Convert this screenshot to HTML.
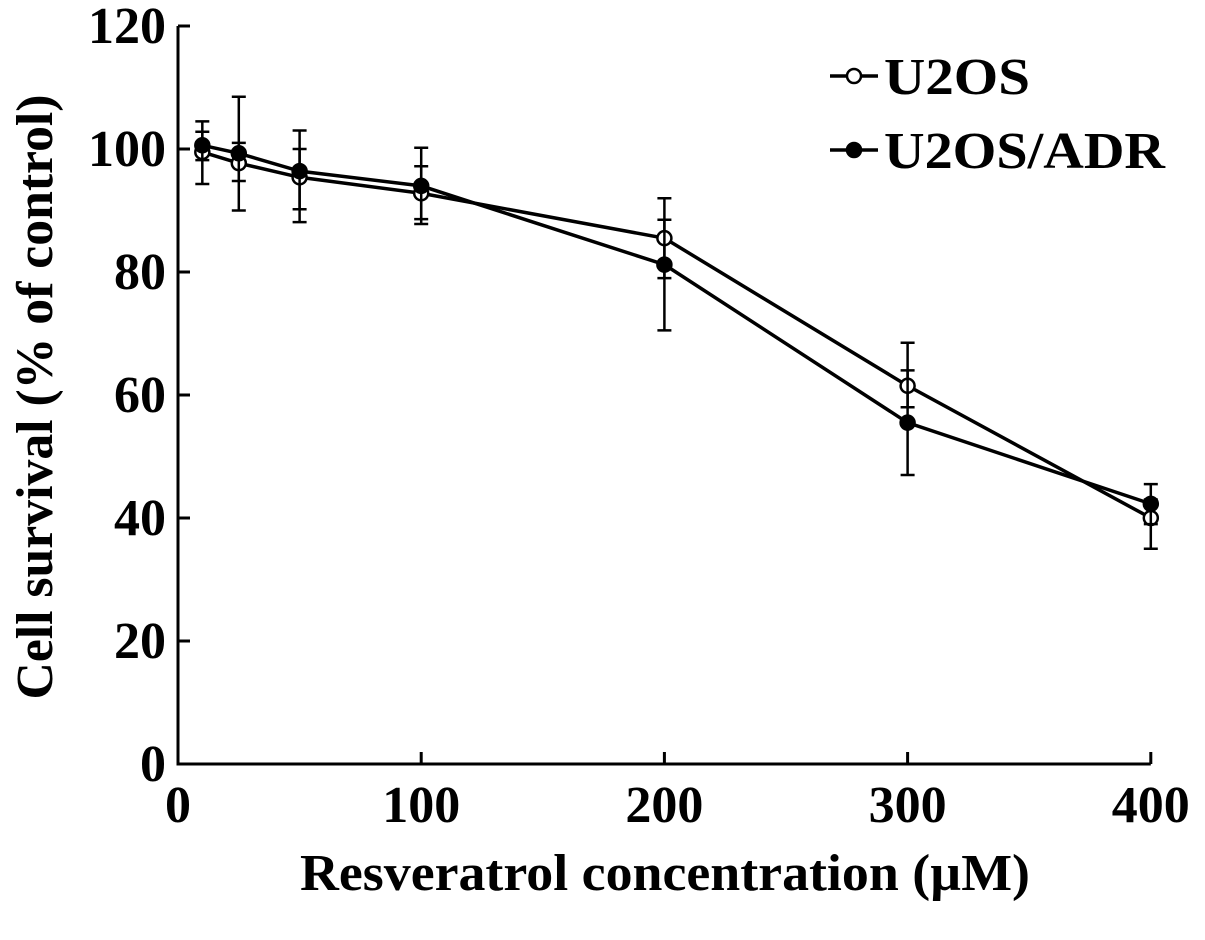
<!DOCTYPE html>
<html><head><meta charset="utf-8"><style>
html,body{margin:0;padding:0;background:#fff;}
svg{display:block;font-family:"Liberation Serif",serif;font-weight:bold;}
</style></head><body>
<svg id="chart" width="1205" height="940" viewBox="0 0 1205 940"></svg>
<script>
const concentrations=[10,25,50,100,200,300,400];
const u2osMean=[99.5,97.7,95.4,92.8,85.5,61.5,40.0];
const u2osLow=[94.3,90.0,88.1,88.6,79.0,58.0,35.0];
const u2osHigh=[102.8,101.0,100.0,97.2,92.0,68.5,43.0];
const adrMean=[100.6,99.3,96.4,94.0,81.2,55.5,42.3];
const adrLow=[98.2,94.8,90.2,87.8,70.5,47.0,39.0];
const adrHigh=[104.5,108.5,103.0,100.2,88.5,64.0,45.5];
const xTicks=[0,100,200,300,400];
const yTicks=[0,20,40,60,80,100,120];
const NS="http://www.w3.org/2000/svg";
const svg=document.getElementById('chart');
const X=v=>178+v*2.432;
const Y=v=>764-v*6.15;
function mk(t,a,p){const e=document.createElementNS(NS,t);for(const k in a)e.setAttribute(k,a[k]);(p||svg).appendChild(e);return e;}
let ax=mk('path',{d:`M${X(0)} ${Y(120)}V${Y(0)}H${X(400)}`,fill:'none',stroke:'#000','stroke-width':3});


yTicks.forEach(v=>{
 const t=mk('line',{x1:X(0),x2:X(0)+12,y1:Y(v),y2:Y(v),stroke:'#000','stroke-width':3});
 
 
 const l=mk('text',{x:X(0)-12,y:Y(v)+17,'text-anchor':'end','font-size':52});
 l.textContent=v;
 
 
});
xTicks.forEach(v=>{
 const t=mk('line',{x1:X(v),x2:X(v),y1:Y(0),y2:Y(0)-12,stroke:'#000','stroke-width':3});
 
 
 const l=mk('text',{x:X(v),y:822,'text-anchor':'middle','font-size':52});
 l.textContent=v;
 
 
});
function series(mean,lo,hi,fill,name){
 const g=mk('g',{});
 
 
 concentrations.forEach((c,i)=>{
  const x=X(c);
  mk('path',{d:`M${x} ${Y(lo[i])}V${Y(hi[i])}M${x-7} ${Y(lo[i])}H${x+7}M${x-7} ${Y(hi[i])}H${x+7}`,stroke:'#000','stroke-width':2.5,fill:'none'},g);
 });
 mk('polyline',{points:concentrations.map((c,i)=>X(c)+','+Y(mean[i])).join(' '),fill:'none',stroke:'#000','stroke-width':3.5},g);
 concentrations.forEach((c,i)=>{
  const p=mk('circle',{cx:X(c),cy:Y(mean[i]),r:7,fill:fill,stroke:'#000','stroke-width':2.5},g);
  
  
 });
}
series(u2osMean,u2osLow,u2osHigh,'#fff','u2os-series');
series(adrMean,adrLow,adrHigh,'#000','u2os-adr-series');
[['U2OS','#fff',76,146],['U2OS/ADR','#000',150,281]].forEach(([t,f,y,w])=>{
 const g=mk('g',{});
 
 
 mk('line',{x1:830,x2:878,y1:y,y2:y,stroke:'#000','stroke-width':3.5},g);
 mk('circle',{cx:854,cy:y,r:7,fill:f,stroke:'#000','stroke-width':2.5},g);
 const l=mk('text',{x:884,y:y+18,'font-size':52,textLength:w,lengthAdjust:'spacingAndGlyphs'},g);l.textContent=t;
});
const yt=mk('text',{x:0,y:0,'text-anchor':'middle','font-size':52,textLength:605,lengthAdjust:'spacingAndGlyphs',transform:'translate(52,397) rotate(-90)'});
yt.textContent='Cell survival (% of control)';


const xt=mk('text',{x:665,y:890,'text-anchor':'middle','font-size':52,textLength:730,lengthAdjust:'spacingAndGlyphs'});
xt.textContent='Resveratrol concentration (\u00b5M)';


</script>
</body></html>
